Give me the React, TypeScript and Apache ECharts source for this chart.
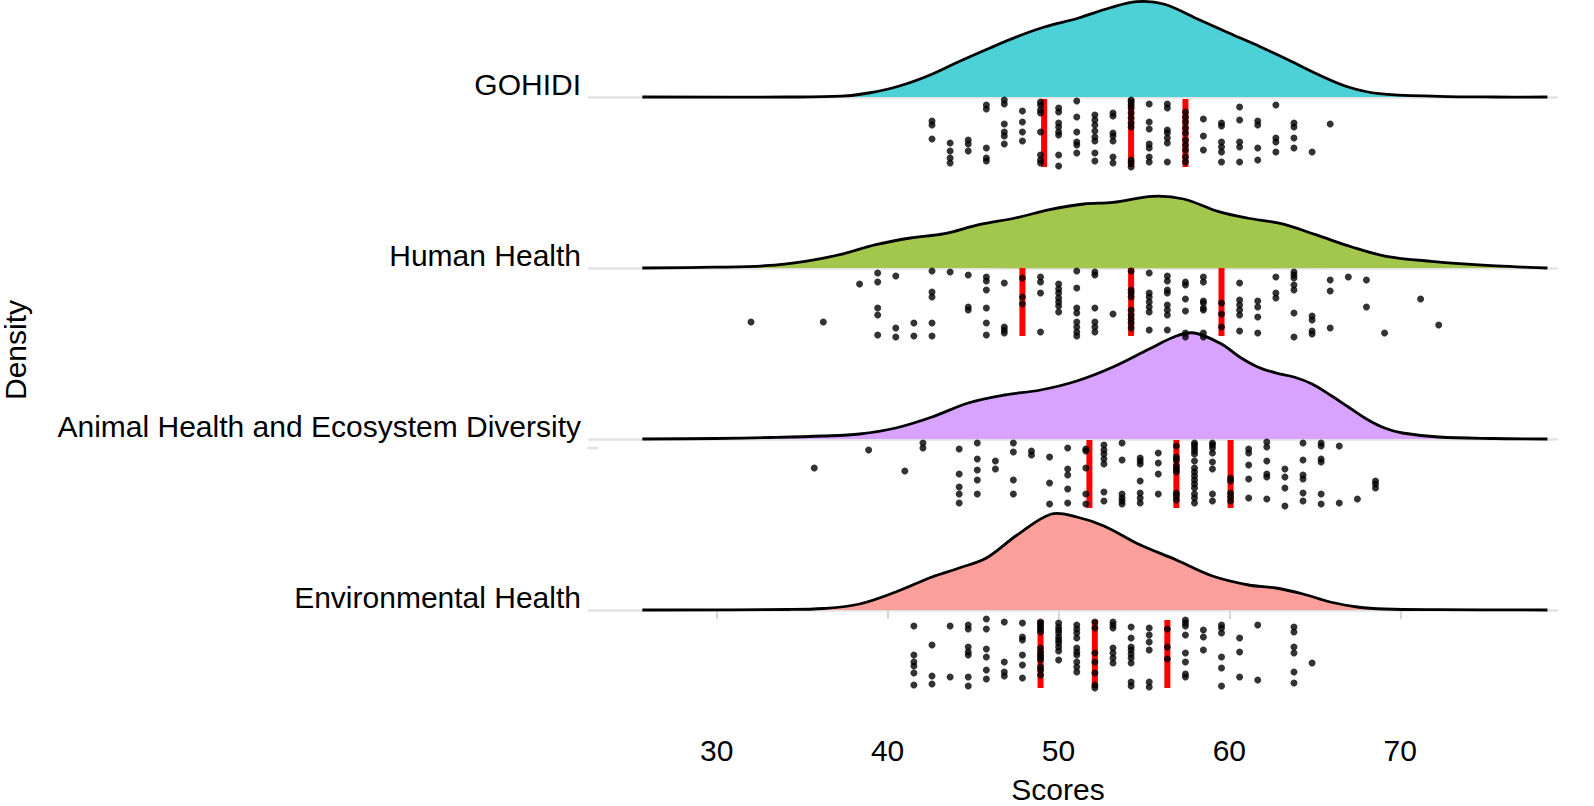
import React, { useEffect, useRef } from 'react';
import * as echarts from 'echarts';

const FONT = '"Liberation Sans", Arial, Helvetica, sans-serif';

// ridge index 0..3, from bottom to top
const CATEGORIES = ['Environmental Health', 'Animal Health and Ecosystem Diversity', 'Human Health', 'GOHIDI'];
const FILL_COLORS = ['#FA9F99', '#D8A3FF', '#A3C64C', '#4CD2D6'];
const X_TICKS = [30, 40, 50, 60, 70];

// readings (density heights, jitter offsets) are in 1/171 of the spacing between ridges
const UNITS_PER_RIDGE = 171;

// density outline: [score, height]
const DENSITY_GOHIDI: [number, number][] = [
  [25.65, 0], [34.13, 0], [37.3, 0.8], [38.89, 4], [40.69, 11], [42.49, 22], [44.19, 35.5], [45.99, 49],
  [47.68, 61], [49.17, 70], [51.18, 79], [52.98, 89], [54.57, 95.3], [56.15, 93], [58.27, 77], [59.97, 64],
  [61.77, 50.5], [63.46, 37], [65.26, 22], [66.96, 10], [68.76, 3.3], [72.25, 0.7], [75.43, 0], [78.61, 0],
];
const DENSITY_HUMAN: [number, number][] = [
  [25.65, 0], [29.89, 0.8], [32.85, 2.3], [35.18, 6.7], [37.2, 13.3], [39.31, 23.3], [41.33, 30], [43.34, 34.3],
  [45.35, 43.3], [47.47, 50], [49.48, 58.3], [51.49, 64], [53.19, 65.7], [55.52, 71.7], [57.32, 69], [59.33, 56.7],
  [61.03, 50], [63.04, 44.3], [65.05, 33.3], [67.17, 21], [69.18, 11.7], [71.83, 6.7], [75.33, 2.3], [77.55, 0.7],
  [78.61, 0],
];
const DENSITY_ANIMAL: [number, number][] = [
  [25.65, 0], [29.89, 0.5], [33.07, 1.5], [36.24, 3], [38.36, 5], [40.48, 11], [42.6, 22], [44.72, 36],
  [46.83, 44], [48.95, 49], [51.07, 58], [53.19, 72], [55.31, 90], [56.9, 103], [57.96, 106], [59.54, 95],
  [60.6, 82], [61.66, 72], [62.72, 66], [63.78, 62], [64.84, 55], [65.9, 44], [66.96, 32], [68.02, 20],
  [69.08, 11], [70.13, 6], [72.25, 2], [75.43, 0.5], [78.61, 0],
];
const DENSITY_ENV: [number, number][] = [
  [25.65, 0], [34.13, 0.5], [36.24, 1.5], [38.36, 6], [40.48, 18], [42.6, 33], [44.19, 42], [45.78, 52],
  [47.58, 75], [49.59, 96], [51.07, 93], [52.66, 84], [54.67, 66], [56.9, 50], [59.01, 34], [61.13, 25],
  [62.72, 22], [64.31, 16], [65.9, 8], [67.49, 3], [69.08, 1], [72.25, 0.3], [78.61, 0],
];

// jittered points: [score, jitter offsets below the ridge]
const POINTS_GOHIDI: [number, number[]][] = [
  [42.6, [24, 28, 42]], [43.66, [46, 54, 61, 66]], [44.72, [43, 47, 54]], [45.78, [8, 12, 51, 61, 64]],
  [46.83, [3, 7, 27, 35, 39, 47]], [47.89, [14, 25, 35, 44]], [48.95, [5, 8, 13, 16, 35, 58, 63, 66]],
  [50.01, [11, 15, 26, 30, 35, 38, 58, 69]], [51.07, [4, 20, 35, 45, 48, 56]],
  [52.13, [18, 23, 28, 34, 40, 44, 56, 64]], [53.19, [16, 19, 36, 39, 44, 60, 66]],
  [54.25, [3, 5, 8, 11, 16, 21, 26, 30, 63, 66, 70]], [55.31, [7, 25, 32, 47, 51, 60, 65]],
  [56.37, [7, 11, 33, 36, 41, 46, 65]], [57.43, [15, 20, 25, 31, 36, 43, 48, 53, 60, 65]],
  [58.48, [22, 39, 53]], [59.54, [26, 29, 45, 50, 55, 65]], [60.6, [10, 23, 45, 50, 65]],
  [61.66, [24, 28, 51, 63]], [62.72, [8, 41, 45, 55]], [63.78, [26, 30, 41, 51]], [64.84, [55]], [65.9, [27]],
];
const POINTS_HUMAN: [number, number[]][] = [
  [32.01, [54]], [36.24, [54]], [38.36, [16]], [39.42, [5, 14, 40, 47, 67]], [40.48, [8, 60, 69]],
  [41.54, [55, 68]], [42.6, [3, 24, 29, 55, 68]], [43.66, [4]], [44.72, [7, 39, 42]],
  [45.78, [9, 13, 22, 40, 55, 67]], [46.83, [15, 59, 62, 65]], [47.89, [10, 29, 36]], [48.95, [9, 14, 25, 64]],
  [50.01, [16, 21, 25, 30, 34, 38, 44]], [51.07, [3, 20, 40, 45, 54, 59, 64, 68]], [52.13, [4, 7, 40, 54, 59, 64]],
  [53.19, [46]], [54.25, [3, 22, 25, 29, 42, 47, 51, 55, 60]], [55.31, [5, 25, 29, 34, 39, 44, 62]],
  [56.37, [8, 13, 22, 25, 37, 42, 47, 62]], [57.43, [14, 17, 31, 43, 65, 69]],
  [58.48, [9, 14, 33, 35, 40, 42, 65, 69]], [59.54, [35, 46, 59]], [60.6, [15, 32, 37, 42, 47, 63]],
  [61.66, [33, 39, 49, 65]], [62.72, [9, 25, 30]], [63.78, [4, 7, 10, 17, 22, 45, 69]], [64.84, [48, 52, 63, 66]],
  [65.9, [12, 23, 60]], [66.96, [9]], [68.02, [12, 39]], [69.08, [65]], [71.19, [31]], [72.25, [57]],
];
const POINTS_ANIMAL: [number, number[]][] = [
  [35.71, [29]], [38.89, [11]], [41.01, [32]], [42.07, [4, 9]], [44.19, [10, 35, 48, 55, 64]],
  [45.25, [4, 20, 31, 41, 55]], [46.31, [22, 30]], [47.36, [4, 13, 41, 55]], [48.42, [12, 16]],
  [49.48, [18, 44, 65]], [50.54, [9, 30, 36, 50, 64]], [51.6, [10, 12, 29, 55, 65]],
  [52.66, [6, 11, 15, 20, 25, 53, 62]], [53.72, [4, 21, 55, 59, 62, 65]], [54.78, [19, 22, 25, 42, 54, 59, 64]],
  [55.84, [14, 24, 35, 55]], [56.9, [7, 18, 21, 27, 30, 33, 54, 57, 61]],
  [57.96, [4, 6, 9, 12, 15, 22, 29, 33, 37, 41, 45, 49, 55, 59, 64]], [59.01, [4, 6, 9, 14, 23, 30, 55, 62]],
  [60.07, [39, 42, 54, 58, 62]], [61.13, [10, 14, 26, 40, 59]], [62.19, [3, 8, 22, 35, 38, 60]],
  [63.25, [30, 38, 49, 67]], [64.31, [4, 21, 36, 40, 54, 62]], [65.37, [4, 7, 20, 23, 55, 65]],
  [66.43, [7, 64]], [67.49, [60]], [68.55, [42, 45, 49]],
];
const POINTS_ENV: [number, number[]][] = [
  [41.54, [16, 45, 52, 56, 63, 75]], [42.6, [35, 66, 74]], [43.66, [16, 67]], [44.72, [15, 19, 37, 42, 45, 67, 76]],
  [45.78, [9, 19, 39, 47, 60, 69]], [46.83, [12, 52, 62, 66]], [47.89, [13, 27, 30, 45, 55, 68]],
  [48.95, [12, 14, 17, 19, 22, 38, 42, 45, 47, 50, 57, 60, 65]], [50.01, [13, 17, 20, 23, 27, 30, 33, 37, 41, 50]],
  [51.07, [15, 19, 23, 28, 38, 42, 45, 52, 57, 62]], [52.13, [12, 18, 43, 52, 63, 75, 78]],
  [53.19, [12, 15, 18, 38, 43, 48, 53]], [54.25, [17, 28, 37, 40, 44, 48, 53, 72, 76]],
  [55.31, [18, 25, 32, 40, 72, 77]], [56.37, [19, 37, 49]], [57.43, [10, 13, 16, 25, 43, 52, 64, 67]],
  [58.48, [20, 27, 40]], [59.54, [15, 18, 23, 47, 58, 76]], [60.6, [28, 42, 67]], [61.66, [15, 70]],
  [63.78, [17, 22, 37, 43, 62, 73]], [64.84, [53]],
];

const QUARTILES_GOHIDI = [49.16, 54.25, 57.43];
const QUARTILES_HUMAN = [47.89, 54.25, 59.54];
const QUARTILES_ANIMAL = [51.81, 56.9, 60.07];
const QUARTILES_ENV = [48.95, 52.13, 56.37];

// jitter range of each group's points (same units as the offsets)
const BAND_GOHIDI = [2, 70];
const BAND_HUMAN = [0, 68];
const BAND_ANIMAL = [1, 69];
const BAND_ENV = [10, 78];

const DENSITIES = [DENSITY_ENV, DENSITY_ANIMAL, DENSITY_HUMAN, DENSITY_GOHIDI];
const POINTS = [POINTS_ENV, POINTS_ANIMAL, POINTS_HUMAN, POINTS_GOHIDI];
const QUARTILES = [QUARTILES_ENV, QUARTILES_ANIMAL, QUARTILES_HUMAN, QUARTILES_GOHIDI];
const BANDS = [BAND_ENV, BAND_ANIMAL, BAND_HUMAN, BAND_GOHIDI];

export default function App() {
  const ref = useRef<HTMLDivElement>(null);

  useEffect(() => {
    if (!ref.current) return;
    const chart = echarts.init(ref.current, undefined, { renderer: 'svg' });

    const scatterData: number[][] = [];
    POINTS.forEach((group, r) => {
      group.forEach(([score, offs]) => {
        offs.forEach((off) => scatterData.push([score, r - off / UNITS_PER_RIDGE]));
      });
    });
    const quartileData: number[][] = [];
    QUARTILES.forEach((qs, r) => qs.forEach((q) => quartileData.push([q, r])));

    const option: any = {
      animation: false,
      backgroundColor: '#ffffff',
      textStyle: { fontFamily: FONT },
      grid: {
        left: 588,
        right: 36,
        top: 97,
        bottom: 806 - 610,
        containLabel: false,
        outerBoundsMode: 'none',
      },
      xAxis: {
        type: 'value',
        min: 22.47,
        max: 79.23,
        offset: 105,
        axisLine: { show: false },
        axisTick: { show: true, length: 9, customValues: X_TICKS, lineStyle: { color: '#D6D6D6', width: 2 } },
        axisLabel: { customValues: X_TICKS, fontSize: 30, color: '#000', margin: 20, fontFamily: FONT },
        splitLine: { show: false },
      },
      yAxis: {
        type: 'value',
        min: 0,
        max: 3,
        interval: 1,
        axisLine: { show: false },
        axisTick: { show: false },
        splitLine: { show: true, lineStyle: { color: '#E3E3E3', width: 2.5 } },
        axisLabel: {
          formatter: (v: number) => CATEGORIES[Math.round(v)] ?? '',
          fontSize: 30,
          lineHeight: 26,
          color: '#000',
          verticalAlign: 'bottom',
          margin: 7,
          fontFamily: FONT,
        },
      },
      graphic: [
        {
          type: 'text',
          x: 15,
          y: 350,
          rotation: Math.PI / 2,
          style: { text: 'Density', fontSize: 30, fill: '#000', align: 'center', verticalAlign: 'middle', fontFamily: FONT },
        },
        {
          type: 'text',
          x: 1058,
          y: 789,
          style: { text: 'Scores', fontSize: 30, fill: '#000', align: 'center', verticalAlign: 'middle', fontFamily: FONT },
        },
        {
          type: 'line',
          shape: { x1: 587, y1: 448, x2: 598, y2: 448 },
          style: { stroke: '#E3E3E3', lineWidth: 2.5 },
        },
      ],
      series: [
        {
          type: 'custom',
          name: 'density',
          clip: false,
          data: [[3], [2], [1], [0]],
          encode: { x: -1, y: -1 },
          renderItem: (_params: any, api: any) => {
            const r = api.value(0);
            const dens = DENSITIES[r];
            const pts = dens.map(([x, h]) => api.coord([x, r + h / UNITS_PER_RIDGE]));
            return {
              type: 'group',
              children: [
                { type: 'polygon', shape: { points: pts, smooth: 0.35 }, style: { fill: FILL_COLORS[r], stroke: null } },
                { type: 'polyline', shape: { points: pts, smooth: 0.35 }, style: { stroke: '#000', lineWidth: 2.8, fill: null } },
              ],
            };
          },
          z: 1,
        },
        {
          type: 'custom',
          name: 'quartiles',
          clip: false,
          data: quartileData,
          renderItem: (_params: any, api: any) => {
            const q = api.value(0);
            const r = api.value(1);
            const band = BANDS[r];
            const top = api.coord([q, r - band[0] / UNITS_PER_RIDGE]);
            const bot = api.coord([q, r - band[1] / UNITS_PER_RIDGE]);
            return {
              type: 'rect',
              shape: { x: top[0] - 3, y: top[1], width: 6, height: bot[1] - top[1] },
              style: { fill: '#FF0000' },
            };
          },
          z: 2,
        },
        {
          type: 'scatter',
          name: 'points',
          clip: false,
          data: scatterData,
          symbol: 'circle',
          symbolSize: 7,
          itemStyle: { color: '#000' },
          z: 3,
        },
      ],
    };
    chart.setOption(option);
    return () => chart.dispose();
  }, []);

  return (
    <div
      ref={ref}
      style={{ position: 'fixed', left: 0, top: 0, width: 1594, height: 806, background: '#fff' }}
    />
  );
}
